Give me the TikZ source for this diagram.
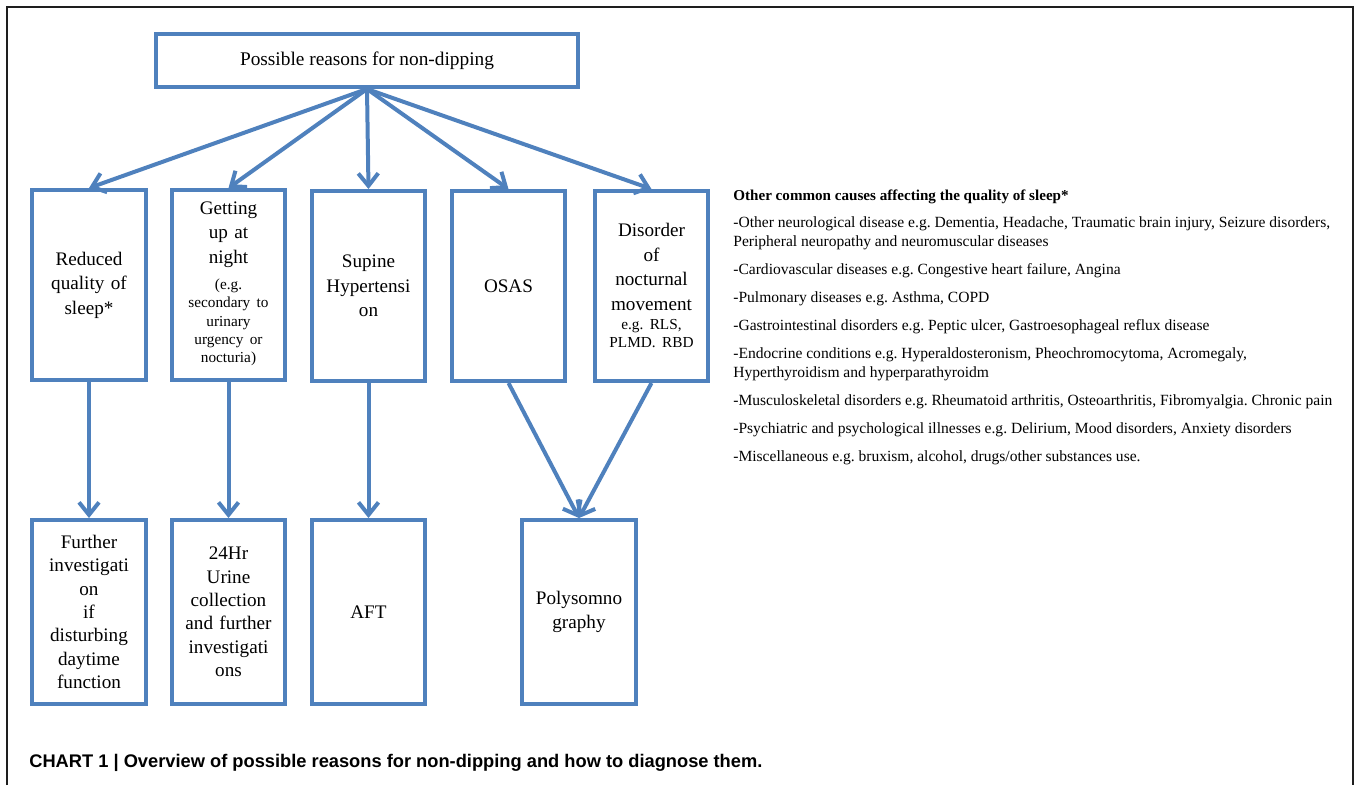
\documentclass[tikz,border=0pt]{standalone}
\usepackage{fontspec}
\setmainfont{Liberation Serif}
\newfontfamily\chartsans{Liberation Sans}
\usepackage{xcolor}
\usetikzlibrary{arrows.meta}
\definecolor{boxblue}{RGB}{79, 129, 189}
\definecolor{framegray}{RGB}{30, 30, 30}
\definecolor{textblack}{RGB}{0, 0, 0}
\newcommand{\smalltxt}{\fontsize{8.7}{10.5}\selectfont}
\frenchspacing

\begin{document}
\begin{tikzpicture}[
        x=0.02cm, y=-0.02cm,
        title/.style={rectangle, draw=boxblue, line width=0.08cm, minimum width=8.44cm, minimum height=1.06cm, text=textblack, font=\fontsize{11}{13.5}\selectfont},
        reason/.style={rectangle, draw=boxblue, line width=0.08cm, minimum width=2.28cm, minimum height=3.8cm, text width=2.1cm, align=center, inner sep=1pt, text=textblack, font=\fontsize{10.9}{13.9}\selectfont},
        diagnosis/.style={reason, minimum height=3.68cm, font=\fontsize{10.9}{13.3}\selectfont},
        flow/.style={-{Straight Barb[length=0.25cm, width=0.4cm]}, draw=boxblue, line width=0.08cm},
        causes/.style={anchor=north west, align=left, inner sep=0pt, text=textblack, font=\fontsize{8.85}{10.9}\selectfont},
        caption/.style={anchor=west, inner sep=0pt, text=textblack, font=\chartsans\bfseries\fontsize{10.4}{12}\selectfont}
    ]
    \useasboundingbox (0,0) rectangle (1356,785);

    % Frame
    \draw[framegray, line width=1pt] (7,785) -- (7,7) -- (1353,7) -- (1353,785);

    % Title
    \node[title] (top) at (367, 60.5) {Possible reasons for non-dipping};

    % Reasons
    \node[reason] (sleep) at (89, 285) {Reduced\\ quality of\\ sleep*};
    \node[reason] (night) at (228.5, 285) {Getting\\ up at\\ night\\[1pt]
        {\smalltxt\begin{tabular}[t]{@{}c@{}}(e.g.\\ secondary to\\ urinary\\ urgency or\\ nocturia)\end{tabular}}};
    \node[reason] (supine) at (368.5, 286) {Supine\\ Hypertensi\\ on};
    \node[reason] (osas) at (508.5, 286) {OSAS};
    \node[reason] (movement) at (651.5, 286) {\\[-3.7pt] Disorder\\ of\\ nocturnal\\ movement\\[-3pt]
        {\smalltxt\begin{tabular}[t]{@{}c@{}}e.g. RLS,\\ PLMD. RBD\end{tabular}}};

    % Diagnostics
    \node[diagnosis] (further) at (89, 612) {Further\\ investigati\\ on\\ if\\ disturbing\\ daytime\\ function};
    \node[diagnosis] (urine) at (228.5, 612) {24Hr\\ Urine\\ collection\\ and further\\ investigati\\ ons};
    \node[diagnosis] (aft) at (368.5, 612) {AFT};
    \node[diagnosis] (psg) at (579, 612) {Polysomno\\ graphy};

    % Arrows
    \draw[flow] (top.south) -- (sleep.north);
    \draw[flow] (top.south) -- (night.north);
    \draw[flow] (top.south) -- (supine.north);
    \draw[flow] (top.south) -- (osas.north);
    \draw[flow] (top.south) -- (movement.north);
    \draw[flow] (sleep) -- (further);
    \draw[flow] (night) -- (urine);
    \draw[flow] (supine) -- (aft);
    \draw[flow] (osas.south) -- (psg.north);
    \draw[flow] (movement.south) -- (psg.north);

    % Other causes
    \node[causes] (othercauses) at (733, 190) {\textbf{\fontsize{8.6}{10.9}\selectfont Other common causes affecting the quality of sleep*}\\[4.3pt]
        -Other neurological disease e.g. Dementia, Headache, Traumatic brain injury, Seizure disorders,\\
        Peripheral neuropathy and neuromuscular diseases\\[5pt]
        -Cardiovascular diseases e.g. Congestive heart failure, Angina\\[5pt]
        -Pulmonary diseases e.g. Asthma, COPD\\[5pt]
        -Gastrointestinal disorders e.g. Peptic ulcer, Gastroesophageal reflux disease\\[5pt]
        -Endocrine conditions e.g. Hyperaldosteronism, Pheochromocytoma, Acromegaly,\\
        Hyperthyroidism and hyperparathyroidm\\[5pt]
        -Musculoskeletal disorders e.g. Rheumatoid arthritis, Osteoarthritis, Fibromyalgia. Chronic pain\\[5pt]
        -Psychiatric and psychological illnesses e.g. Delirium, Mood disorders, Anxiety disorders\\[5pt]
        -Miscellaneous e.g. bruxism, alcohol, drugs/other substances use.};

    % Caption
    \node[caption] (chart) at (29, 763) {CHART 1 | Overview of possible reasons for non-dipping and how to diagnose them.};

\end{tikzpicture}
\end{document}
